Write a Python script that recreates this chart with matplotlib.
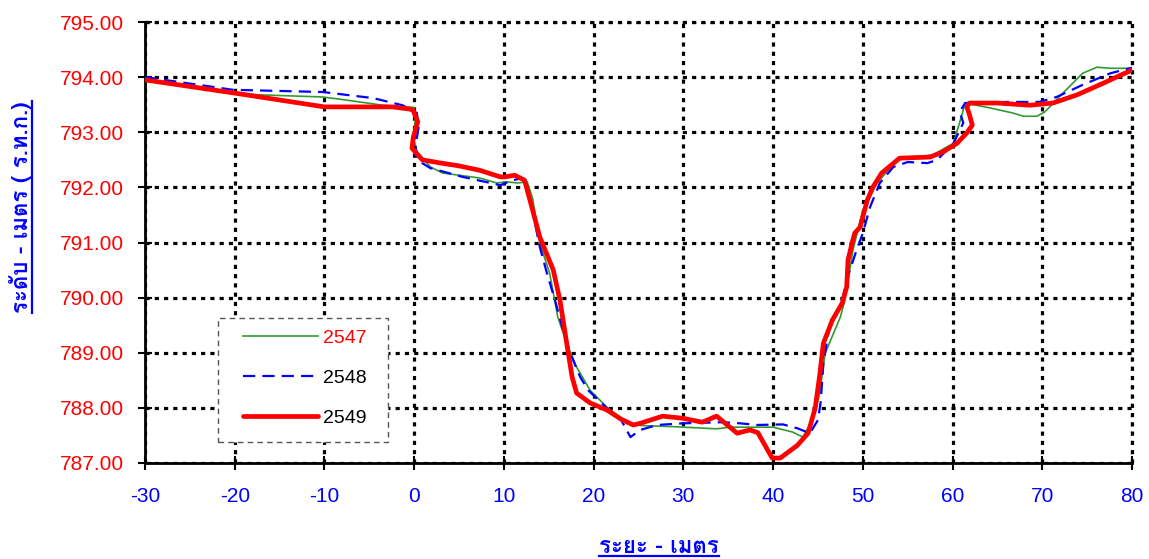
import matplotlib
matplotlib.use("Agg")
import matplotlib.pyplot as plt
from matplotlib.lines import Line2D
from matplotlib.patches import Rectangle

# ---------------- data ----------------
x_2547 = [-30, -20, -17.5, -10.2, -8.3, -3.5, 0, 0.1, -0.1, 0.35, 1.8, 3.2, 7.3, 9.2, 10.3, 11.5,
          12.6, 13.2, 14.0, 15.1, 16.0, 17.0, 18.1, 19.6, 21.5, 23.7, 25.2, 28.8, 33.7, 35.2, 40.0,
          42.2, 43.3, 44.4, 45.2, 45.8, 47.5, 48.0, 48.9, 50.0, 51.6, 53.8, 57.8, 60.1, 61.2, 61.4,
          64.2, 66.7, 67.9, 69.4, 70.3, 72.3, 74.5, 76.1, 77.6, 80]
y_2547 = [793.95, 793.72, 793.68, 793.64, 793.60, 793.49, 793.45, 793.19, 792.90, 792.64, 792.37,
          792.26, 792.17, 792.08, 792.10, 792.08, 792.10, 791.80, 790.99, 790.44, 789.65, 789.17,
          788.74, 788.32, 788.01, 787.74, 787.68, 787.66, 787.62, 787.65, 787.65, 787.56, 787.47,
          787.78, 788.27, 788.99, 789.65, 789.95, 790.86, 791.59, 792.08, 792.50, 792.59, 792.80,
          793.40, 793.53, 793.44, 793.35, 793.29, 793.29, 793.37, 793.71, 794.07, 794.18, 794.16,
          794.16]

x_2548 = [-30, -20.2, -10.2, -4.6, -1.3, 0.3, 0.5, 0.2, 0.1, 0.9, 1.8, 5.4, 8.5, 9.6, 11.0, 12.1,
          12.7, 14.0, 14.8, 15.7, 16.6, 17.4, 18.5, 19.4, 21.5, 22.9, 24.1, 25.2, 27.1, 30.0, 34.4,
          36.3, 38.2, 41.1, 42.7, 44.1, 45.0, 45.3, 45.6, 46.3, 47.5, 48.3, 49.3, 50.0, 50.8, 51.9,
          53.4, 55.0, 57.2, 58.3, 60.1, 61.2, 60.8, 61.4, 66.1, 69.7, 71.6, 74.5, 77.6, 80]
y_2548 = [794.00, 793.77, 793.73, 793.62, 793.49, 793.35, 793.10, 792.80, 792.59, 792.44, 792.35,
          792.19, 792.08, 792.04, 792.13, 792.17, 791.95, 790.92, 790.44, 789.95, 789.41, 788.99,
          788.56, 788.32, 787.99, 787.83, 787.47, 787.60, 787.69, 787.72, 787.74, 787.72, 787.69,
          787.70, 787.63, 787.54, 787.78, 788.10, 788.80, 789.50, 789.83, 790.37, 790.86, 791.17,
          791.64, 792.08, 792.37, 792.46, 792.44, 792.50, 792.80, 793.17, 793.37, 793.53, 793.55,
          793.55, 793.64, 793.86, 794.07, 794.17]

x_2549 = [-30, -20, -10, -2.4, -0.5, -0.13, 0.4, -0.1, -0.25, 0.9, 3, 5, 7.3, 9.6, 10.1, 11.2,
          12.3, 12.6, 12.9, 14.0, 15.5, 16.25, 17.0, 17.6, 18.1, 19.6, 21.5, 23, 24.4, 25.2, 27.7,
          30.0, 32.1, 33.7, 36.0, 37.4, 38.3, 39.9, 40.8, 42.7, 43.9, 44.7, 45.2, 45.6, 46.6, 47.7,
          48.2, 48.35, 48.8, 49.1, 49.7, 50.5, 51.1, 52.1, 54.1, 57.5, 58.9, 60.5, 61.6, 62.2,
          61.9, 61.6, 61.9, 65.0, 68.6, 71.2, 73.9, 76.8, 80]
y_2549 = [793.95, 793.71, 793.46, 793.46, 793.42, 793.40, 793.19, 792.91, 792.71, 792.50, 792.44,
          792.39, 792.31, 792.19, 792.19, 792.22, 792.13, 791.95, 791.77, 791.10, 790.50, 789.95,
          789.17, 788.56, 788.27, 788.09, 787.96, 787.80, 787.69, 787.72, 787.85, 787.81, 787.74,
          787.85, 787.54, 787.60, 787.55, 787.09, 787.09, 787.32, 787.54, 788.00, 788.60, 789.17,
          789.59, 789.90, 790.19, 790.68, 790.99, 791.17, 791.28, 791.77, 792.00, 792.26, 792.53,
          792.55, 792.64, 792.80, 792.99, 793.13, 793.31, 793.46, 793.53, 793.53, 793.49, 793.53,
          793.68, 793.89, 794.13]

series_labels = ["2547", "2548", "2549"]
x_ticks = [-30, -20, -10, 0, 10, 20, 30, 40, 50, 60, 70, 80]
y_ticks = [787, 788, 789, 790, 791, 792, 793, 794, 795]
x_label = "ระยะ - เมตร"
y_label = "ระดับ - เมตร ( ร.ท.ก.)"

# ---------------- figure ----------------
plt.rcParams["font.family"] = ["Liberation Sans", "DejaVu Sans"]
W, H = 1149, 559
fig = plt.figure(figsize=(W / 100, H / 100), dpi=100)
AX_L, AX_R, AX_T, AX_B = 145, 1132, 22, 463
ax = fig.add_axes([AX_L / W, 1 - AX_B / H, (AX_R - AX_L) / W, (AX_B - AX_T) / H])


def ax_frac(px, py):
    return (px - AX_L) / (AX_R - AX_L), (AX_B - py) / (AX_B - AX_T)


ax.plot(x_2547, y_2547, color="#339933", lw=1.2, solid_joinstyle="round", label=series_labels[0], zorder=3)
ax.plot(x_2548, y_2548, color="#0000ff", lw=1.6, linestyle=(0, (5.5, 3.2)), label=series_labels[1], zorder=4)
ax.plot(x_2549, y_2549, color="#ff0000", lw=3.4, solid_joinstyle="round", solid_capstyle="round",
        label=series_labels[2], zorder=5)

ax.set_xlim(-30, 80)
ax.set_ylim(787, 795)
ax.set_xticks(x_ticks)
ax.set_yticks(y_ticks)
ax.set_xticklabels([str(v) for v in x_ticks])
ax.set_yticklabels([f"{v:.2f}" for v in y_ticks])
ax.tick_params(axis="x", colors="black", labelcolor="#0000ff", labelsize=15, direction="inout",
               length=10, width=1.5, pad=12)
ax.tick_params(axis="y", colors="black", labelcolor="#ff0000", labelsize=15, direction="inout",
               length=10, width=1.5, pad=10)

dot = (0, (1.3, 1.6))
ax.grid(True, color="black", linestyle=dot, linewidth=2.3, zorder=1)
ax.set_axisbelow(True)
for s in ["top", "right"]:
    ax.spines[s].set_visible(False)
ax.spines["left"].set_linewidth(2)
ax.spines["bottom"].set_linewidth(2)
ax.axhline(795, color="black", linestyle=dot, linewidth=2.3, clip_on=False, zorder=1)
ax.axvline(80, color="black", linestyle=dot, linewidth=2.3, clip_on=False, zorder=1)

# legend frame (dashed grey box) drawn separately
fx0, fy0 = ax_frac(218, 442)
fx1, fy1 = ax_frac(388, 318)
ax.add_patch(Rectangle((fx0, fy0), fx1 - fx0, fy1 - fy0, transform=ax.transAxes,
                       facecolor="white", edgecolor="#555555", lw=1.0, linestyle=(0, (4, 3)),
                       zorder=6))
lx, ly = ax_frac(243, 329)
leg = ax.legend(loc="upper left", bbox_to_anchor=(lx, ly), frameon=False, fontsize=14,
                handlelength=3.86, handletextpad=0.26, labelspacing=1.16, borderpad=0,
                borderaxespad=0)
leg.set_zorder(7)
for t, c in zip(leg.get_texts(), ["#ff0000", "black", "black"]):
    t.set_color(c)

thai = ["Loma", "DejaVu Sans"]
xl = fig.text(659 / W, 1 - 547 / H, x_label, family=thai, weight="bold", fontsize=16,
              color="#0000ff", ha="center", va="center")
yl = fig.text(21 / W, 1 - 207 / H, y_label, family=thai, weight="bold", fontsize=16,
              color="#0000ff", ha="center", va="center", rotation=90)

# underline the axis titles
fig.canvas.draw()
r = fig.canvas.get_renderer()
inv = fig.transFigure.inverted()
bb = xl.get_window_extent(r)
(x0, y0), (x1, y1) = inv.transform([(bb.x0, bb.y0 + 1), (bb.x1, bb.y0 + 1)])
fig.add_artist(Line2D([x0, x1], [y0, y1], color="#0000ff", lw=1.6, transform=fig.transFigure))
bb = yl.get_window_extent(r)
(x0, y0), (x1, y1) = inv.transform([(bb.x1 - 1, bb.y0), (bb.x1 - 1, bb.y1)])
fig.add_artist(Line2D([x0, x1], [y0, y1], color="#0000ff", lw=1.6, transform=fig.transFigure))

fig.savefig("out.png", dpi=100)
